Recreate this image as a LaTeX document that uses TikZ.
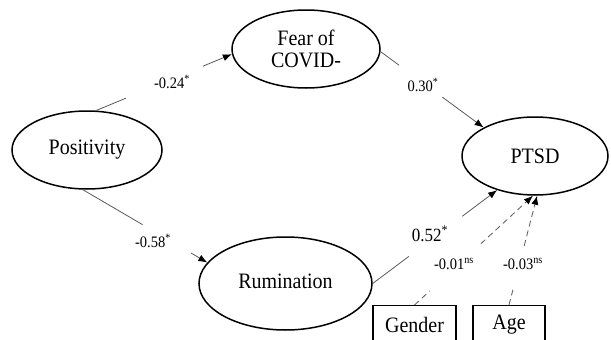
\documentclass[tikz,border=0pt]{standalone}
\usepackage{fontspec}
\setmainfont{Liberation Serif}
\usetikzlibrary{shapes.geometric,arrows.meta,calc}
\newcommand{\tallt}[1]{\scalebox{1}[1.1]{#1}}
\tikzset{
  latent/.style={ellipse,draw=black,line width=1.5pt,inner sep=0pt,font=\fontsize{20}{22}\selectfont},
  obsbox/.style={rectangle,draw=black,line width=1.4pt,inner sep=0pt,anchor=north,minimum height=38pt,font=\fontsize{20}{22}\selectfont},
  conn/.style={draw=black!65,line width=0.8pt},
  connarrow/.style={conn,-{Latex[length=9pt,width=7pt,black]}},
  dashconn/.style={conn,dash pattern=on 6pt off 4pt},
  dasharrow/.style={dashconn,-{Latex[length=9pt,width=7pt,black]}},
  coef/.style={inner sep=0pt,font=\fontsize{14.5}{16}\selectfont},
  bigcoef/.style={inner sep=0pt,font=\fontsize{17}{19}\selectfont}
}
\begin{document}
\begin{tikzpicture}[x=1pt,y=-1pt]
\useasboundingbox (0,0) rectangle (611,340);
\clip (0,0) rectangle (611,340);
% latent variables
\node[latent,minimum width=148pt,minimum height=78pt,align=center] (fear) at (306,49) {\tallt{Fear of}\\[0pt]\tallt{COVID-}};
\node[latent,minimum width=150pt,minimum height=78pt] (pos) at (87,150) {\tallt{Positivity}};
\node[latent,minimum width=146pt,minimum height=78pt] (ptsd) at (535,156) {\tallt{PTSD}};
\node[latent,minimum width=173pt,minimum height=93pt] (rum) at (285.5,283.5) {\raisebox{5pt}{\tallt{Rumination}}};
% observed covariates
\node[obsbox,minimum width=83pt] (gender) at (414.5,305) {\tallt{Gender}};
\node[obsbox,minimum width=72pt] (age) at (509,305) {\tallt{Age}};
% coefficient labels
\node[coef] (l1) at (172,82) {\tallt{-0.24\textsuperscript{*}}};
\node[coef] (l2) at (423,85) {\tallt{0.30\textsuperscript{*}}};
\node[coef] (l3) at (153,241) {\tallt{-0.58\textsuperscript{*}}};
\node[bigcoef] (l4) at (430,234) {\tallt{0.52\textsuperscript{*}}};
\node[coef] (l5) at (454,264) {\tallt{-0.01\textsuperscript{ns}}};
\node[coef] (l6) at (523,264) {\tallt{-0.03\textsuperscript{ns}}};
% Positivity -> Fear
\draw[conn] (pos.77) -- ($(pos.77)!0.22!(fear.184.6)$);
\draw[connarrow] ($(pos.77)!0.787!(fear.184.6)$) -- (fear.184.6);
% Fear -> PTSD
\draw[conn] (fear.358) -- ($(fear.358)!0.18!(ptsd.151.7)$);
\draw[connarrow] ($(fear.358)!0.60!(ptsd.151.7)$) -- (ptsd.151.7);
% Positivity -> Rumination
\draw[conn] (pos.264) -- ($(pos.264)!0.48!(rum.165.7)$);
\draw[connarrow] ($(pos.264)!0.87!(rum.165.7)$) -- (rum.165.7);
% Rumination -> PTSD
\draw[conn] (rum.0) -- ($(rum.0)!0.29!(ptsd.222.6)$);
\draw[connarrow] ($(rum.0)!0.72!(ptsd.222.6)$) -- (ptsd.222.6);
% Gender -> PTSD
\draw[dashconn] (gender.north) -- ($(gender.north)!0.13!(ptsd.267)$);
\draw[dasharrow] ($(gender.north)!0.56!(ptsd.267)$) -- (ptsd.267);
% Age -> PTSD
\draw[dashconn] (age.north) -- ($(age.north)!0.14!(ptsd.273)$);
\draw[dasharrow] ($(age.north)!0.54!(ptsd.273)$) -- (ptsd.273);
\end{tikzpicture}
\end{document}
